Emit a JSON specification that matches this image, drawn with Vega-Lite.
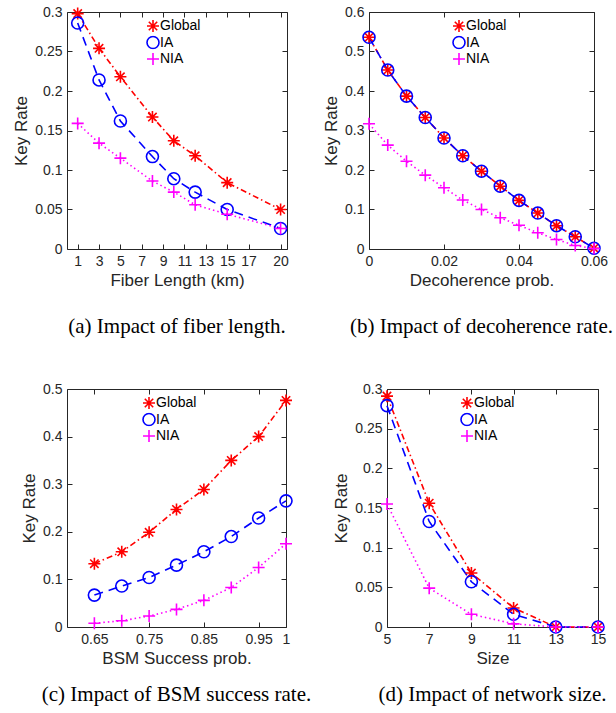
{
  "$schema": "https://vega.github.io/schema/vega-lite/v6.json",
  "padding": {"left": 12, "top": 4, "right": 4, "bottom": 4},
  "background": "white",
  "config": {
    "font": "Liberation Sans",
    "view": {"stroke": null},
    "axis": {
      "grid": false,
      "domainColor": "#262626",
      "tickColor": "#262626",
      "labelColor": "#262626",
      "titleColor": "#262626",
      "labelFont": "Liberation Sans",
      "titleFont": "Liberation Sans",
      "labelFontSize": 14,
      "titleFontSize": 17,
      "titleFontWeight": "normal",
      "tickSize": -5,
      "labelPadding": 10,
      "titlePadding": 4,
      "labelFlush": false,
      "labelOverlap": false
    },
    "legend": {
      "orient": "none",
      "title": null,
      "labelFont": "Liberation Sans",
      "labelFontSize": 14,
      "labelColor": "#000000",
      "symbolSize": 144,
      "symbolStrokeWidth": 1.6,
      "clipHeight": 14,
      "rowPadding": 2.5,
      "labelOffset": 0,
      "padding": 0
    },
    "title": {
      "font": "Liberation Serif",
      "fontSize": 21,
      "fontWeight": "normal",
      "color": "#000000",
      "orient": "bottom",
      "offset": 28
    }
  },
  "columns": 1,
  "spacing": 45,
  "align": "none",
  "concat": [
    {
      "spacing": 82,
      "bounds": "flush",
      "hconcat": [
        {
          "width": 220,
          "height": 237,
          "title": {"text": "(a) Impact of fiber length."},
          "data": {"values": [
            {"x": 1, "y": 0.298, "s": "Global"}, {"x": 3, "y": 0.254, "s": "Global"}, {"x": 5, "y": 0.218, "s": "Global"}, {"x": 8, "y": 0.167, "s": "Global"},
            {"x": 10, "y": 0.137, "s": "Global"}, {"x": 12, "y": 0.118, "s": "Global"}, {"x": 15, "y": 0.084, "s": "Global"}, {"x": 20, "y": 0.050, "s": "Global"},
            {"x": 1, "y": 0.286, "s": "IA"}, {"x": 3, "y": 0.214, "s": "IA"}, {"x": 5, "y": 0.162, "s": "IA"}, {"x": 8, "y": 0.117, "s": "IA"},
            {"x": 10, "y": 0.089, "s": "IA"}, {"x": 12, "y": 0.072, "s": "IA"}, {"x": 15, "y": 0.050, "s": "IA"}, {"x": 20, "y": 0.026, "s": "IA"},
            {"x": 1, "y": 0.159, "s": "NIA"}, {"x": 3, "y": 0.134, "s": "NIA"}, {"x": 5, "y": 0.115, "s": "NIA"}, {"x": 8, "y": 0.086, "s": "NIA"},
            {"x": 10, "y": 0.072, "s": "NIA"}, {"x": 12, "y": 0.056, "s": "NIA"}, {"x": 15, "y": 0.044, "s": "NIA"}, {"x": 20, "y": 0.026, "s": "NIA"}
          ]},
          "layer": [
            {"mark": {"type": "line", "strokeWidth": 1.6}, "encoding": {
              "x": {"field": "x", "type": "quantitative", "scale": {"domain": [0, 20.6], "nice": false, "zero": false}, "axis": {"values": [1, 3, 5, 7, 9, 11, 13, 15, 17, 20], "format": ".2~f", "title": "Fiber Length (km)"}},
              "y": {"field": "y", "type": "quantitative", "scale": {"domain": [0, 0.3], "nice": false}, "axis": {"values": [0, 0.05, 0.1, 0.15, 0.2, 0.25, 0.3], "format": ".2~f", "title": "Key Rate"}},
              "stroke": {"field": "s", "type": "nominal", "scale": {"domain": ["Global", "IA", "NIA"], "range": ["#ff0000", "#0000ff", "#ff00ff"]}, "legend": null},
              "strokeDash": {"field": "s", "type": "nominal", "scale": {"domain": ["Global", "IA", "NIA"], "range": [[6, 3, 1.5, 3], [9, 6], [1.5, 3]]}, "legend": null}}},
            {"mark": {"type": "point", "filled": false, "size": 144, "strokeWidth": 1.6, "opacity": 1}, "encoding": {
              "x": {"field": "x", "type": "quantitative", "axis": {"orient": "top", "values": [1, 3, 5, 7, 9, 11, 13, 15, 17, 20], "labels": false, "title": null}},
              "y": {"field": "y", "type": "quantitative", "axis": {"orient": "right", "values": [0, 0.05, 0.1, 0.15, 0.2, 0.25, 0.3], "labels": false, "title": null}},
              "color": {"field": "s", "type": "nominal", "scale": {"domain": ["Global", "IA", "NIA"], "range": ["#ff0000", "#0000ff", "#ff00ff"]}, "legend": {"orient": "none", "legendX": 79, "legendY": 7}},
              "shape": {"field": "s", "type": "nominal", "scale": {"domain": ["Global", "IA", "NIA"], "range": ["M-1,0L1,0M0,-1L0,1M-0.7,-0.7L0.7,0.7M-0.7,0.7L0.7,-0.7", "circle", "M-1,0L1,0M0,-1L0,1"]}, "legend": {"orient": "none", "legendX": 79, "legendY": 7}}}}
          ],
          "resolve": {"axis": {"x": "independent", "y": "independent"}, "scale": {"color": "independent", "shape": "independent"}}
        },
        {
          "width": 225,
          "height": 237,
          "title": {"text": "(b) Impact of decoherence rate."},
          "data": {"values": [
            {"x": 0, "y": 0.536, "s": "Global"}, {"x": 0.005, "y": 0.453, "s": "Global"}, {"x": 0.01, "y": 0.387, "s": "Global"}, {"x": 0.015, "y": 0.333, "s": "Global"},
            {"x": 0.02, "y": 0.281, "s": "Global"}, {"x": 0.025, "y": 0.236, "s": "Global"}, {"x": 0.03, "y": 0.197, "s": "Global"}, {"x": 0.035, "y": 0.159, "s": "Global"},
            {"x": 0.04, "y": 0.123, "s": "Global"}, {"x": 0.045, "y": 0.091, "s": "Global"}, {"x": 0.05, "y": 0.059, "s": "Global"}, {"x": 0.055, "y": 0.031, "s": "Global"}, {"x": 0.06, "y": 0.002, "s": "Global"},
            {"x": 0, "y": 0.536, "s": "IA"}, {"x": 0.005, "y": 0.453, "s": "IA"}, {"x": 0.01, "y": 0.387, "s": "IA"}, {"x": 0.015, "y": 0.333, "s": "IA"},
            {"x": 0.02, "y": 0.281, "s": "IA"}, {"x": 0.025, "y": 0.236, "s": "IA"}, {"x": 0.03, "y": 0.197, "s": "IA"}, {"x": 0.035, "y": 0.159, "s": "IA"},
            {"x": 0.04, "y": 0.123, "s": "IA"}, {"x": 0.045, "y": 0.091, "s": "IA"}, {"x": 0.05, "y": 0.059, "s": "IA"}, {"x": 0.055, "y": 0.031, "s": "IA"}, {"x": 0.06, "y": 0.002, "s": "IA"},
            {"x": 0, "y": 0.317, "s": "NIA"}, {"x": 0.005, "y": 0.263, "s": "NIA"}, {"x": 0.01, "y": 0.222, "s": "NIA"}, {"x": 0.015, "y": 0.187, "s": "NIA"},
            {"x": 0.02, "y": 0.155, "s": "NIA"}, {"x": 0.025, "y": 0.124, "s": "NIA"}, {"x": 0.03, "y": 0.100, "s": "NIA"}, {"x": 0.035, "y": 0.079, "s": "NIA"},
            {"x": 0.04, "y": 0.060, "s": "NIA"}, {"x": 0.045, "y": 0.041, "s": "NIA"}, {"x": 0.05, "y": 0.024, "s": "NIA"}, {"x": 0.055, "y": 0.009, "s": "NIA"}, {"x": 0.06, "y": 0.001, "s": "NIA"}
          ]},
          "layer": [
            {"mark": {"type": "line", "strokeWidth": 1.6}, "encoding": {
              "x": {"field": "x", "type": "quantitative", "scale": {"domain": [0, 0.06], "nice": false}, "axis": {"values": [0, 0.02, 0.04, 0.06], "format": ".2~f", "title": "Decoherence prob."}},
              "y": {"field": "y", "type": "quantitative", "scale": {"domain": [0, 0.6], "nice": false}, "axis": {"values": [0, 0.1, 0.2, 0.3, 0.4, 0.5, 0.6], "format": ".2~f", "title": "Key Rate"}},
              "stroke": {"field": "s", "type": "nominal", "scale": {"domain": ["Global", "IA", "NIA"], "range": ["#ff0000", "#0000ff", "#ff00ff"]}, "legend": null},
              "strokeDash": {"field": "s", "type": "nominal", "scale": {"domain": ["Global", "IA", "NIA"], "range": [[6, 3, 1.5, 3], [9, 6], [1.5, 3]]}, "legend": null}}},
            {"mark": {"type": "point", "filled": false, "size": 144, "strokeWidth": 1.6, "opacity": 1}, "encoding": {
              "x": {"field": "x", "type": "quantitative", "axis": {"orient": "top", "values": [0, 0.02, 0.04, 0.06], "labels": false, "title": null}},
              "y": {"field": "y", "type": "quantitative", "axis": {"orient": "right", "values": [0, 0.1, 0.2, 0.3, 0.4, 0.5, 0.6], "labels": false, "title": null}},
              "color": {"field": "s", "type": "nominal", "scale": {"domain": ["Global", "IA", "NIA"], "range": ["#ff0000", "#0000ff", "#ff00ff"]}, "legend": {"orient": "none", "legendX": 83, "legendY": 7}},
              "shape": {"field": "s", "type": "nominal", "scale": {"domain": ["Global", "IA", "NIA"], "range": ["M-1,0L1,0M0,-1L0,1M-0.7,-0.7L0.7,0.7M-0.7,0.7L0.7,-0.7", "circle", "M-1,0L1,0M0,-1L0,1"]}, "legend": {"orient": "none", "legendX": 83, "legendY": 7}}}}
          ],
          "resolve": {"axis": {"x": "independent", "y": "independent"}, "scale": {"color": "independent", "shape": "independent"}}
        }
      ]
    },
    {
      "spacing": 101,
      "bounds": "flush",
      "hconcat": [
        {
          "width": 219,
          "height": 238,
          "title": {"text": "(c) Impact of BSM success rate.", "offset": 18},
          "data": {"values": [
            {"x": 0.65, "y": 0.133, "s": "Global"}, {"x": 0.70, "y": 0.158, "s": "Global"}, {"x": 0.75, "y": 0.199, "s": "Global"}, {"x": 0.80, "y": 0.247, "s": "Global"},
            {"x": 0.85, "y": 0.289, "s": "Global"}, {"x": 0.90, "y": 0.350, "s": "Global"}, {"x": 0.95, "y": 0.400, "s": "Global"}, {"x": 1.00, "y": 0.476, "s": "Global"},
            {"x": 0.65, "y": 0.067, "s": "IA"}, {"x": 0.70, "y": 0.086, "s": "IA"}, {"x": 0.75, "y": 0.104, "s": "IA"}, {"x": 0.80, "y": 0.130, "s": "IA"},
            {"x": 0.85, "y": 0.158, "s": "IA"}, {"x": 0.90, "y": 0.190, "s": "IA"}, {"x": 0.95, "y": 0.229, "s": "IA"}, {"x": 1.00, "y": 0.265, "s": "IA"},
            {"x": 0.65, "y": 0.008, "s": "NIA"}, {"x": 0.70, "y": 0.013, "s": "NIA"}, {"x": 0.75, "y": 0.023, "s": "NIA"}, {"x": 0.80, "y": 0.037, "s": "NIA"},
            {"x": 0.85, "y": 0.056, "s": "NIA"}, {"x": 0.90, "y": 0.083, "s": "NIA"}, {"x": 0.95, "y": 0.125, "s": "NIA"}, {"x": 1.00, "y": 0.175, "s": "NIA"}
          ]},
          "layer": [
            {"mark": {"type": "line", "strokeWidth": 1.6}, "encoding": {
              "x": {"field": "x", "type": "quantitative", "scale": {"domain": [0.6, 1], "nice": false, "zero": false}, "axis": {"values": [0.65, 0.75, 0.85, 0.95, 1], "format": ".2~f", "title": "BSM Success prob."}},
              "y": {"field": "y", "type": "quantitative", "scale": {"domain": [0, 0.5], "nice": false}, "axis": {"values": [0, 0.1, 0.2, 0.3, 0.4, 0.5], "format": ".2~f", "title": "Key Rate"}},
              "stroke": {"field": "s", "type": "nominal", "scale": {"domain": ["Global", "IA", "NIA"], "range": ["#ff0000", "#0000ff", "#ff00ff"]}, "legend": null},
              "strokeDash": {"field": "s", "type": "nominal", "scale": {"domain": ["Global", "IA", "NIA"], "range": [[6, 3, 1.5, 3], [9, 6], [1.5, 3]]}, "legend": null}}},
            {"mark": {"type": "point", "filled": false, "size": 144, "strokeWidth": 1.6, "opacity": 1}, "encoding": {
              "x": {"field": "x", "type": "quantitative", "axis": {"orient": "top", "values": [0.65, 0.75, 0.85, 0.95, 1], "labels": false, "title": null}},
              "y": {"field": "y", "type": "quantitative", "axis": {"orient": "right", "values": [0, 0.1, 0.2, 0.3, 0.4, 0.5], "labels": false, "title": null}},
              "color": {"field": "s", "type": "nominal", "scale": {"domain": ["Global", "IA", "NIA"], "range": ["#ff0000", "#0000ff", "#ff00ff"]}, "legend": {"orient": "none", "legendX": 75, "legendY": 7}},
              "shape": {"field": "s", "type": "nominal", "scale": {"domain": ["Global", "IA", "NIA"], "range": ["M-1,0L1,0M0,-1L0,1M-0.7,-0.7L0.7,0.7M-0.7,0.7L0.7,-0.7", "circle", "M-1,0L1,0M0,-1L0,1"]}, "legend": {"orient": "none", "legendX": 75, "legendY": 7}}}}
          ],
          "resolve": {"axis": {"x": "independent", "y": "independent"}, "scale": {"color": "independent", "shape": "independent"}}
        },
        {
          "width": 211,
          "height": 238,
          "title": {"text": "(d) Impact of network size.", "offset": 18},
          "data": {"values": [
            {"x": 5, "y": 0.291, "s": "Global"}, {"x": 7, "y": 0.156, "s": "Global"}, {"x": 9, "y": 0.068, "s": "Global"}, {"x": 11, "y": 0.024, "s": "Global"}, {"x": 13, "y": 0, "s": "Global"}, {"x": 15, "y": 0, "s": "Global"},
            {"x": 5, "y": 0.279, "s": "IA"}, {"x": 7, "y": 0.133, "s": "IA"}, {"x": 9, "y": 0.057, "s": "IA"}, {"x": 11, "y": 0.016, "s": "IA"}, {"x": 13, "y": 0, "s": "IA"}, {"x": 15, "y": 0, "s": "IA"},
            {"x": 5, "y": 0.155, "s": "NIA"}, {"x": 7, "y": 0.049, "s": "NIA"}, {"x": 9, "y": 0.016, "s": "NIA"}, {"x": 11, "y": 0.004, "s": "NIA"}, {"x": 13, "y": 0, "s": "NIA"}, {"x": 15, "y": 0, "s": "NIA"}
          ]},
          "layer": [
            {"mark": {"type": "line", "strokeWidth": 1.6}, "encoding": {
              "x": {"field": "x", "type": "quantitative", "scale": {"domain": [5, 15], "nice": false, "zero": false}, "axis": {"values": [5, 7, 9, 11, 13, 15], "format": ".2~f", "title": "Size"}},
              "y": {"field": "y", "type": "quantitative", "scale": {"domain": [0, 0.3], "nice": false}, "axis": {"values": [0, 0.05, 0.1, 0.15, 0.2, 0.25, 0.3], "format": ".2~f", "title": "Key Rate"}},
              "stroke": {"field": "s", "type": "nominal", "scale": {"domain": ["Global", "IA", "NIA"], "range": ["#ff0000", "#0000ff", "#ff00ff"]}, "legend": null},
              "strokeDash": {"field": "s", "type": "nominal", "scale": {"domain": ["Global", "IA", "NIA"], "range": [[6, 3, 1.5, 3], [9, 6], [1.5, 3]]}, "legend": null}}},
            {"mark": {"type": "point", "filled": false, "size": 144, "strokeWidth": 1.6, "opacity": 1}, "encoding": {
              "x": {"field": "x", "type": "quantitative", "axis": {"orient": "top", "values": [5, 7, 9, 11, 13, 15], "labels": false, "title": null}},
              "y": {"field": "y", "type": "quantitative", "axis": {"orient": "right", "values": [0, 0.05, 0.1, 0.15, 0.2, 0.25, 0.3], "labels": false, "title": null}},
              "color": {"field": "s", "type": "nominal", "scale": {"domain": ["Global", "IA", "NIA"], "range": ["#ff0000", "#0000ff", "#ff00ff"]}, "legend": {"orient": "none", "legendX": 73, "legendY": 7}},
              "shape": {"field": "s", "type": "nominal", "scale": {"domain": ["Global", "IA", "NIA"], "range": ["M-1,0L1,0M0,-1L0,1M-0.7,-0.7L0.7,0.7M-0.7,0.7L0.7,-0.7", "circle", "M-1,0L1,0M0,-1L0,1"]}, "legend": {"orient": "none", "legendX": 73, "legendY": 7}}}}
          ],
          "resolve": {"axis": {"x": "independent", "y": "independent"}, "scale": {"color": "independent", "shape": "independent"}}
        }
      ]
    }
  ]
}
